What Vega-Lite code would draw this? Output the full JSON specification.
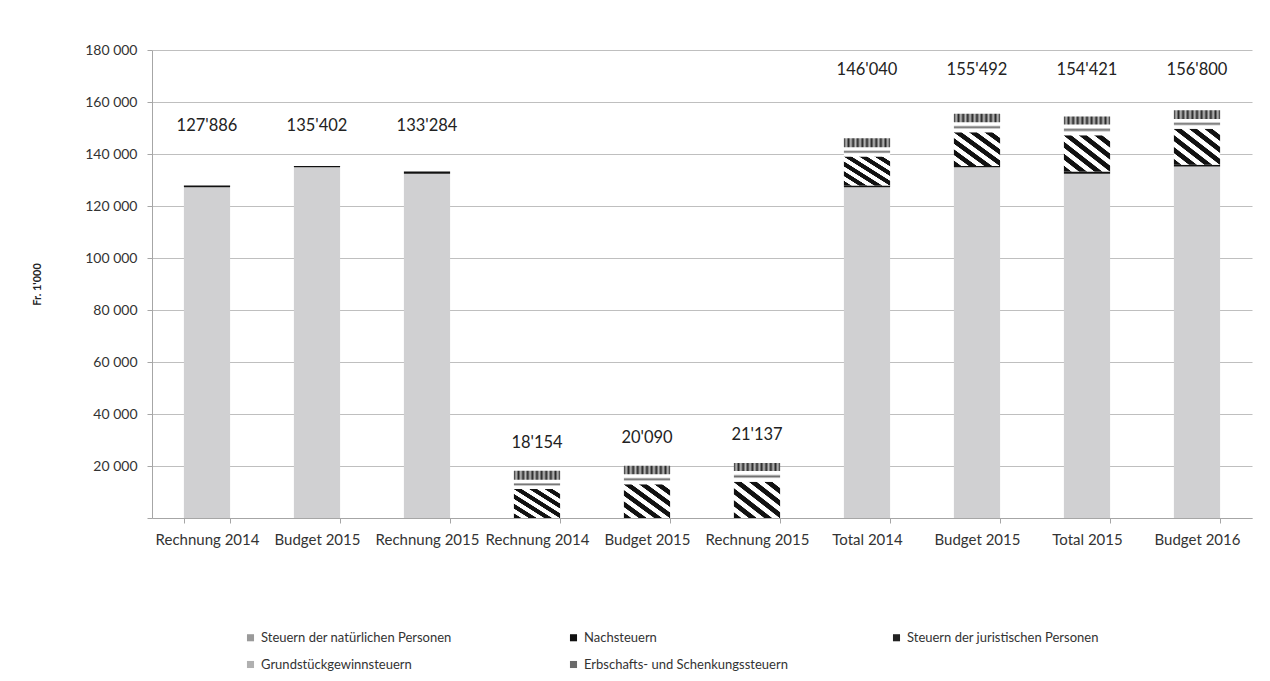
{
  "$schema": "https://vega.github.io/schema/vega-lite/v6.json",
  "width": 1100,
  "height": 468,
  "autosize": {"type": "none"},
  "padding": {"left": 152, "top": 50, "right": 18, "bottom": 163},
  "background": "white",
  "config": {"view": {"stroke": null}, "font": "Lato"},
  "data": {
    "values": [
      {"x": "Rechnung 2014|1", "grp": "A", "cat": "Steuern der natürlichen Personen", "ord": 1, "v": 127200},
      {"x": "Rechnung 2014|1", "grp": "A", "cat": "Nachsteuern", "ord": 2, "v": 686},
      {"x": "Budget 2015|2", "grp": "A", "cat": "Steuern der natürlichen Personen", "ord": 1, "v": 134900},
      {"x": "Budget 2015|2", "grp": "A", "cat": "Nachsteuern", "ord": 2, "v": 502},
      {"x": "Rechnung 2015|3", "grp": "A", "cat": "Steuern der natürlichen Personen", "ord": 1, "v": 132400},
      {"x": "Rechnung 2015|3", "grp": "A", "cat": "Nachsteuern", "ord": 2, "v": 884},
      {"x": "Rechnung 2014|4", "grp": "B", "cat": "Steuern der juristischen Personen", "ord": 3, "v": 11200},
      {"x": "Rechnung 2014|4", "grp": "B", "cat": "Grundstückgewinnsteuern", "ord": 4, "v": 3500},
      {"x": "Rechnung 2014|4", "grp": "B", "cat": "Erbschafts- und Schenkungssteuern", "ord": 5, "v": 3454},
      {"x": "Budget 2015|5", "grp": "B", "cat": "Steuern der juristischen Personen", "ord": 3, "v": 13000},
      {"x": "Budget 2015|5", "grp": "B", "cat": "Grundstückgewinnsteuern", "ord": 4, "v": 3800},
      {"x": "Budget 2015|5", "grp": "B", "cat": "Erbschafts- und Schenkungssteuern", "ord": 5, "v": 3290},
      {"x": "Rechnung 2015|6", "grp": "B", "cat": "Steuern der juristischen Personen", "ord": 3, "v": 13900},
      {"x": "Rechnung 2015|6", "grp": "B", "cat": "Grundstückgewinnsteuern", "ord": 4, "v": 4200},
      {"x": "Rechnung 2015|6", "grp": "B", "cat": "Erbschafts- und Schenkungssteuern", "ord": 5, "v": 3037},
      {"x": "Total 2014|7", "grp": "C", "cat": "Steuern der natürlichen Personen", "ord": 1, "v": 127200},
      {"x": "Total 2014|7", "grp": "C", "cat": "Nachsteuern", "ord": 2, "v": 686},
      {"x": "Total 2014|7", "grp": "C", "cat": "Steuern der juristischen Personen", "ord": 3, "v": 11200},
      {"x": "Total 2014|7", "grp": "C", "cat": "Grundstückgewinnsteuern", "ord": 4, "v": 3500},
      {"x": "Total 2014|7", "grp": "C", "cat": "Erbschafts- und Schenkungssteuern", "ord": 5, "v": 3454},
      {"x": "Budget 2015|8", "grp": "C", "cat": "Steuern der natürlichen Personen", "ord": 1, "v": 134900},
      {"x": "Budget 2015|8", "grp": "C", "cat": "Nachsteuern", "ord": 2, "v": 502},
      {"x": "Budget 2015|8", "grp": "C", "cat": "Steuern der juristischen Personen", "ord": 3, "v": 13000},
      {"x": "Budget 2015|8", "grp": "C", "cat": "Grundstückgewinnsteuern", "ord": 4, "v": 3800},
      {"x": "Budget 2015|8", "grp": "C", "cat": "Erbschafts- und Schenkungssteuern", "ord": 5, "v": 3290},
      {"x": "Total 2015|9", "grp": "C", "cat": "Steuern der natürlichen Personen", "ord": 1, "v": 132400},
      {"x": "Total 2015|9", "grp": "C", "cat": "Nachsteuern", "ord": 2, "v": 884},
      {"x": "Total 2015|9", "grp": "C", "cat": "Steuern der juristischen Personen", "ord": 3, "v": 13900},
      {"x": "Total 2015|9", "grp": "C", "cat": "Grundstückgewinnsteuern", "ord": 4, "v": 4200},
      {"x": "Total 2015|9", "grp": "C", "cat": "Erbschafts- und Schenkungssteuern", "ord": 5, "v": 3037},
      {"x": "Budget 2016|10", "grp": "C", "cat": "Steuern der natürlichen Personen", "ord": 1, "v": 135200},
      {"x": "Budget 2016|10", "grp": "C", "cat": "Nachsteuern", "ord": 2, "v": 700},
      {"x": "Budget 2016|10", "grp": "C", "cat": "Steuern der juristischen Personen", "ord": 3, "v": 13800},
      {"x": "Budget 2016|10", "grp": "C", "cat": "Grundstückgewinnsteuern", "ord": 4, "v": 3800},
      {"x": "Budget 2016|10", "grp": "C", "cat": "Erbschafts- und Schenkungssteuern", "ord": 5, "v": 3300}
    ]
  },
  "layer": [
    {
      "mark": {"type": "bar"},
      "encoding": {
        "x": {
          "field": "x", "type": "nominal", "sort": null,
          "scale": {
            "domain": ["Rechnung 2014|1", "Budget 2015|2", "Rechnung 2015|3", "Rechnung 2014|4", "Budget 2015|5", "Rechnung 2015|6", "Total 2014|7", "Budget 2015|8", "Total 2015|9", "Budget 2016|10"],
            "paddingInner": 0.58, "paddingOuter": 0.29
          },
          "axis": {
            "title": null, "labelAngle": 0,
            "labelExpr": "split(datum.label, '|')[0]",
            "tickBand": "extent", "grid": false,
            "domainColor": "#a6a6a6", "tickColor": "#a6a6a6", "tickSize": 5,
            "labelFontSize": 15, "labelColor": "#333333", "labelPadding": 9
          }
        },
        "y": {
          "field": "v", "type": "quantitative", "stack": "zero",
          "scale": {"domain": [0, 180000], "nice": false},
          "axis": {
            "title": "Fr. 1'000",
            "values": [0, 20000, 40000, 60000, 80000, 100000, 120000, 140000, 160000, 180000],
            "labelExpr": "datum.value == 0 ? '' : replace(format(datum.value, ','), ',', ' ')",
            "gridColor": "#bfbfbf", "domainColor": "#a6a6a6", "tickColor": "#a6a6a6", "tickSize": 5,
            "labelFontSize": 14, "labelColor": "#333333", "labelPadding": 10,
            "titleFontSize": 11, "titleFontWeight": "bold", "titleColor": "#222222",
            "titleX": -110, "titleY": 234, "titleAngle": -90
          }
        },
        "order": {"field": "ord", "type": "quantitative"},
        "fill": {
          "field": "cat", "type": "nominal",
          "scale": {
            "domain": ["Steuern der natürlichen Personen", "Grundstückgewinnsteuern", "Nachsteuern", "Erbschafts- und Schenkungssteuern", "Steuern der juristischen Personen"],
            "range": ["#9a9a9a", "#b0b0b0", "#111111", "#6a6a6a", "#222222"]
          },
          "legend": {
            "orient": "none", "legendX": 92, "legendY": 581, "columns": 3, "title": null,
            "symbolType": "square", "symbolSize": 50, "labelFontSize": 13, "labelColor": "#333333",
            "columnPadding": 102, "rowPadding": 13, "gridAlign": "all", "labelLimit": 300, "padding": 0
          },
          "condition": [
            {"test": "datum.cat === 'Steuern der natürlichen Personen'", "value": "#d0d0d2"},
            {"test": "datum.cat === 'Steuern der juristischen Personen'", "value": {
              "gradient": "linear", "x1": 0, "y1": 1, "x2": 1, "y2": 0,
              "stops": [
                {"offset": 0, "color": "#111111"}, {"offset": 0.075, "color": "#111111"},
                {"offset": 0.085, "color": "#ffffff"}, {"offset": 0.1567, "color": "#ffffff"},
                {"offset": 0.1667, "color": "#111111"}, {"offset": 0.2417, "color": "#111111"},
                {"offset": 0.2517, "color": "#ffffff"}, {"offset": 0.3233, "color": "#ffffff"},
                {"offset": 0.3333, "color": "#111111"}, {"offset": 0.4083, "color": "#111111"},
                {"offset": 0.4183, "color": "#ffffff"}, {"offset": 0.49, "color": "#ffffff"},
                {"offset": 0.5, "color": "#111111"}, {"offset": 0.575, "color": "#111111"},
                {"offset": 0.585, "color": "#ffffff"}, {"offset": 0.6567, "color": "#ffffff"},
                {"offset": 0.6667, "color": "#111111"}, {"offset": 0.7417, "color": "#111111"},
                {"offset": 0.7517, "color": "#ffffff"}, {"offset": 0.8233, "color": "#ffffff"},
                {"offset": 0.8333, "color": "#111111"}, {"offset": 0.9083, "color": "#111111"},
                {"offset": 0.9183, "color": "#ffffff"}, {"offset": 1, "color": "#ffffff"}
              ]
            }},
            {"test": "datum.cat === 'Grundstückgewinnsteuern'", "value": {
              "gradient": "linear", "x1": 0, "y1": 0, "x2": 0, "y2": 1,
              "stops": [
                {"offset": 0, "color": "#ffffff"}, {"offset": 0.3, "color": "#ffffff"},
                {"offset": 0.5, "color": "#6a6a6a"}, {"offset": 0.7, "color": "#ffffff"},
                {"offset": 1, "color": "#ffffff"}
              ]
            }},
            {"test": "datum.cat === 'Erbschafts- und Schenkungssteuern'", "value": {
              "gradient": "linear", "x1": 0, "y1": 0, "x2": 1, "y2": 0,
              "stops": [
                {"offset": 0, "color": "#2a2a2a"}, {"offset": 0.05, "color": "#bdbdbd"},
                {"offset": 0.1, "color": "#2a2a2a"}, {"offset": 0.15, "color": "#bdbdbd"},
                {"offset": 0.2, "color": "#2a2a2a"}, {"offset": 0.25, "color": "#bdbdbd"},
                {"offset": 0.3, "color": "#2a2a2a"}, {"offset": 0.35, "color": "#bdbdbd"},
                {"offset": 0.4, "color": "#2a2a2a"}, {"offset": 0.45, "color": "#bdbdbd"},
                {"offset": 0.5, "color": "#2a2a2a"}, {"offset": 0.55, "color": "#bdbdbd"},
                {"offset": 0.6, "color": "#2a2a2a"}, {"offset": 0.65, "color": "#bdbdbd"},
                {"offset": 0.7, "color": "#2a2a2a"}, {"offset": 0.75, "color": "#bdbdbd"},
                {"offset": 0.8, "color": "#2a2a2a"}, {"offset": 0.85, "color": "#bdbdbd"},
                {"offset": 0.9, "color": "#2a2a2a"}, {"offset": 0.95, "color": "#bdbdbd"},
                {"offset": 1, "color": "#2a2a2a"}
              ]
            }}
          ]
        }
      }
    },
    {
      "transform": [
        {"aggregate": [{"op": "sum", "field": "v", "as": "total"}], "groupby": ["x", "grp"]},
        {"joinaggregate": [{"op": "max", "field": "total", "as": "gmax"}], "groupby": ["grp"]},
        {"calculate": "datum.grp === 'B' ? datum.total + 10700 : datum.gmax + 15400", "as": "ly"},
        {"calculate": "replace(format(datum.total, ','), ',', \"'\")", "as": "lbl"}
      ],
      "mark": {"type": "text", "fontSize": 16.5, "color": "#222222", "baseline": "middle"},
      "encoding": {
        "x": {"field": "x", "type": "nominal", "sort": null},
        "y": {"field": "ly", "type": "quantitative"},
        "text": {"field": "lbl", "type": "nominal"}
      }
    }
  ]
}
